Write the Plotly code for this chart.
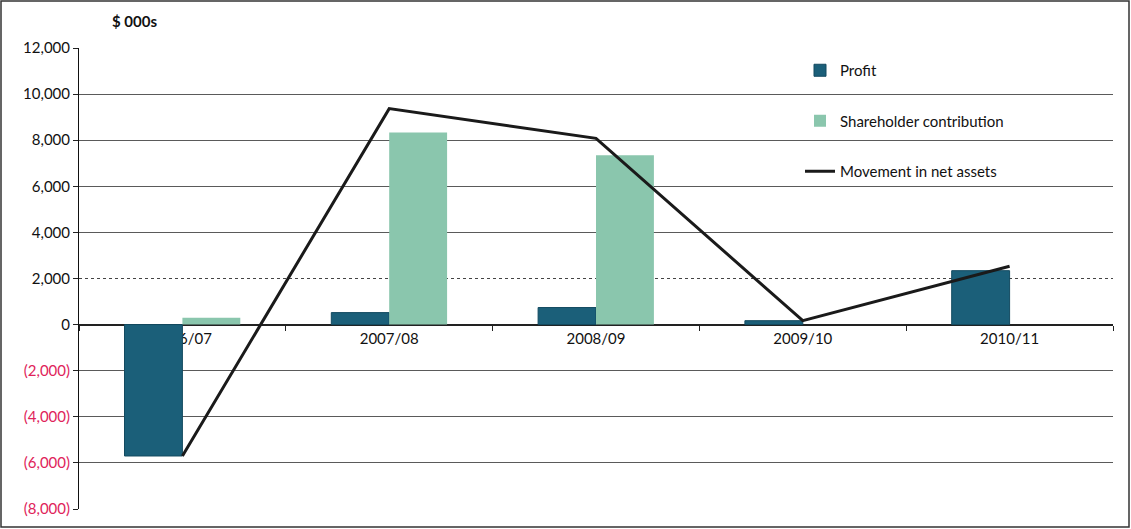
import plotly.graph_objects as go

categories = ["2006/07", "2007/08", "2008/09", "2009/10", "2010/11"]
profit = [-5700, 520, 740, 170, 2340]
shareholder = [300, 8330, 7345, 0, 0]
movement = [-5700, 9370, 8080, 170, 2530]

tick_vals = [12000, 10000, 8000, 6000, 4000, 2000, 0, -2000, -4000, -6000, -8000]
solid_grid_vals = [12000, 10000, 8000, 6000, 4000, -2000, -4000, -6000, -8000]
dotted_grid_vals = [2000]


def fmt(v):
    if v < 0:
        return "<span style='color:#e0235a'>(" + f"{-v:,}" + ")</span>"
    return f"{v:,}"


tick_text = [fmt(v) for v in tick_vals]

FONT = "Lato, 'Open Sans', sans-serif"
FS = 15

fig = go.Figure()
# helper (empty) traces so the overlaid grid axes get drawn
for ax in ("y2", "y3"):
    fig.add_trace(go.Scatter(x=categories[:1], y=[None], yaxis=ax, xaxis="x",
                             showlegend=False, hoverinfo="skip", mode="lines"))
fig.add_trace(go.Bar(
    x=categories, y=profit, name="Profit",
    marker=dict(color="#1b5f79", line=dict(color="#134a60", width=1)),
    legendgroup="a",
))
fig.add_trace(go.Bar(
    x=categories, y=shareholder, name="Shareholder contribution",
    marker=dict(color="#8ac6ad", line=dict(width=0)),
    legendgroup="b",
))
fig.add_trace(go.Scatter(
    x=categories, y=movement, name="Movement in net assets",
    mode="lines", line=dict(color="#1a1a1a", width=3),
    legendgroup="c",
))

W, H = 1131, 529
ml, mr, mt, mb = 79, 18, 48, 20
pw, ph = W - ml - mr, H - mt - mb


def px_x(p):
    return (p - ml) / pw


def px_y(p):
    return (H - mb - p) / ph


yr = [-8000, 12000]

fig.update_layout(
    width=W, height=H,
    margin=dict(l=ml, r=mr, t=mt, b=mb),
    paper_bgcolor="white", plot_bgcolor="white",
    font=dict(family=FONT, size=FS, color="#111"),
    barmode="group", bargap=0.44, bargroupgap=0,
    title=dict(text="<b>$ 000s</b>", x=112 / W, xanchor="left",
               y=1 - 22 / H, yanchor="middle",
               font=dict(family=FONT, size=FS, color="#111")),
    legend=dict(x=px_x(800), y=px_y(54), xanchor="left", yanchor="top",
                bgcolor="rgba(0,0,0,0)", tracegroupgap=28,
                font=dict(family=FONT, size=FS, color="#111")),
    showlegend=True,
    xaxis=dict(
        type="category", anchor="free", position=px_y(325),
        showline=True, linecolor="#222", linewidth=1,
        ticks="outside", tickson="boundaries", ticklen=5, tickcolor="#222",
        showgrid=False, layer="below traces",
        tickfont=dict(family=FONT, size=FS, color="#111"),
    ),
    yaxis=dict(
        range=yr, tickvals=tick_vals, ticktext=tick_text,
        showline=True, linecolor="#111", linewidth=1,
        ticks="outside", ticklen=5, tickcolor="#222",
        showgrid=False,
        zeroline=True, zerolinecolor="#222", zerolinewidth=1,
        tickfont=dict(family=FONT, size=FS, color="#111"),
    ),
    yaxis2=dict(
        range=yr, overlaying="y", anchor="x", tickvals=solid_grid_vals,
        showticklabels=False, ticks="", showline=False, zeroline=False,
        showgrid=True, gridcolor="#5a5a5a", gridwidth=1, layer="below traces",
    ),
    yaxis3=dict(
        range=yr, overlaying="y", anchor="x", tickvals=dotted_grid_vals,
        showticklabels=False, ticks="", showline=False, zeroline=False,
        showgrid=True, gridcolor="#444", gridwidth=1, griddash="dot",
        layer="below traces",
    ),
    shapes=[
        dict(type="rect", xref="paper", yref="paper",
             x0=px_x(1), x1=px_x(1129), y0=px_y(527), y1=px_y(1),
             line=dict(color="#333", width=1.5), layer="above"),
    ],
)

fig.write_html("out.html")
